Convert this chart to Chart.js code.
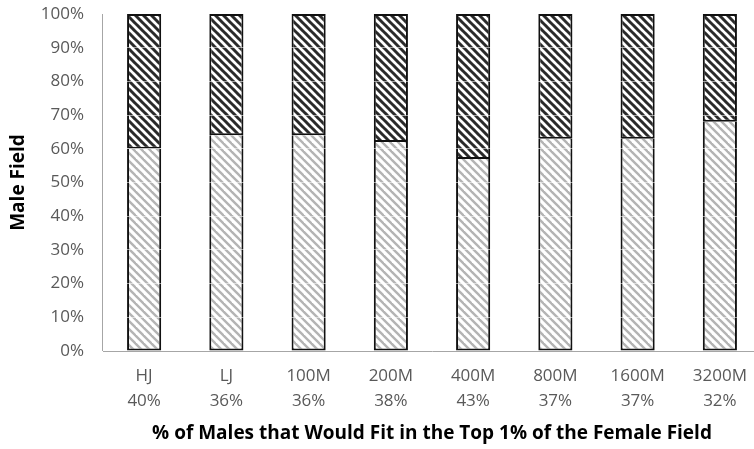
<!DOCTYPE html>
<html>
<head>
<meta charset="utf-8">
<script src="https://cdn.jsdelivr.net/npm/chart.js@4/dist/chart.umd.min.js"></script>
<style>
  html, body { margin: 0; padding: 0; background: #fff; overflow: hidden; }
  #wrap { width: 762px; height: 449px; }
</style>
</head>
<body>
<div id="wrap"><canvas id="c" width="762" height="449"></canvas></div>
<script>
// Events along the bottom axis
const events = ['HJ', 'LJ', '100M', '200M', '400M', '800M', '1600M', '3200M'];
// Share of males that would fit in the top 1% of the female field (upper segment)
const malesInTopFemale = [40, 36, 36, 38, 43, 37, 37, 32];
// Remaining share of the male field (lower segment)
const malesRest = [60, 64, 64, 62, 57, 63, 63, 68];
// Y axis ticks
const yTicks = [0, 10, 20, 30, 40, 50, 60, 70, 80, 90, 100];

// Diagonal hatch fill, stripes running from upper left to lower right
function hatch(color, width) {
  const size = 8;
  const t = document.createElement('canvas');
  t.width = size; t.height = size;
  const g = t.getContext('2d');
  g.fillStyle = '#ffffff';
  g.fillRect(0, 0, size, size);
  g.strokeStyle = color;
  g.lineWidth = width;
  for (const o of [-size, 0, size]) {
    g.beginPath();
    g.moveTo(o - 1, -1);
    g.lineTo(o + size + 1, size + 1);
    g.stroke();
  }
  return g.createPattern(t, 'repeat');
}

// Vertical axis line along the left edge of the plot area
const leftAxisLine = {
  id: 'leftAxisLine',
  afterDraw(chart) {
    const a = chart.chartArea;
    const g = chart.ctx;
    g.save();
    g.strokeStyle = '#a6a6a6';
    g.lineWidth = 1;
    g.beginPath();
    g.moveTo(Math.round(a.left) - 0.5, a.top);
    g.lineTo(Math.round(a.left) - 0.5, a.bottom);
    g.stroke();
    g.restore();
  }
};

const ctx = document.getElementById('c').getContext('2d');
const font = "'Open Sans', 'Noto Sans', sans-serif";

new Chart(ctx, {
  type: 'bar',
  data: {
    labels: events.map((e, i) => [e, malesInTopFemale[i] + '%']),
    datasets: [
      {
        label: 'Rest of male field',
        data: malesRest,
        backgroundColor: hatch('#b4b4b4', 2.4),
        borderColor: '#111111',
        borderWidth: 2,
        borderSkipped: 'top'
      },
      {
        label: 'Males in top 1% of female field',
        data: malesInTopFemale,
        backgroundColor: hatch('#2a2a2a', 3),
        borderColor: '#111111',
        borderWidth: 2,
        borderSkipped: false
      }
    ]
  },
  plugins: [leftAxisLine],
  options: {
    responsive: false,
    animation: false,
    layout: { padding: { top: 14, right: 1, bottom: 0, left: 0 } },
    plugins: { legend: { display: false }, tooltip: { enabled: false } },
    datasets: { bar: { categoryPercentage: 1, barPercentage: 0.415 } },
    scales: {
      x: {
        stacked: true,
        grid: { display: false, drawTicks: false },
        border: { display: true, color: '#a6a6a6', width: 1 },
        ticks: {
          color: '#595959',
          font: { family: font, size: 17, lineHeight: 1.47 },
          padding: 13,
          maxRotation: 0,
          autoSkip: false
        },
        title: {
          display: true,
          text: '% of Males that Would Fit in the Top 1% of the Female Field',
          color: '#000000',
          font: { family: font, size: 19, weight: 'bold', lineHeight: 1.3 },
          padding: { top: 3, bottom: 3 }
        },
        afterFit(s) { s.height = 98; }
      },
      y: {
        stacked: true,
        min: 0,
        max: 100,
        afterBuildTicks(s) { s.ticks = yTicks.map(v => ({ value: v })); },
        grid: {
          z: 1,
          drawTicks: false,
          color: c => (c.tick && (c.tick.value === 0 || c.tick.value === 100)) ? 'rgba(0,0,0,0)' : 'rgba(255,255,255,0.55)',
          lineWidth: 1
        },
        border: { display: false },
        ticks: {
          color: '#595959',
          font: { family: font, size: 17 },
          padding: 19,
          callback: v => v + '%'
        },
        title: {
          display: true,
          text: 'Male Field',
          color: '#000000',
          font: { family: font, size: 19, weight: 'bold', lineHeight: 1.3 },
          padding: { top: 6, bottom: 6 }
        },
        afterFit(s) {
          s.width = 103;
          s.paddingTop = 0;
          s.paddingBottom = 0;
        }
      }
    }
  }
});
</script>
</body>
</html>
